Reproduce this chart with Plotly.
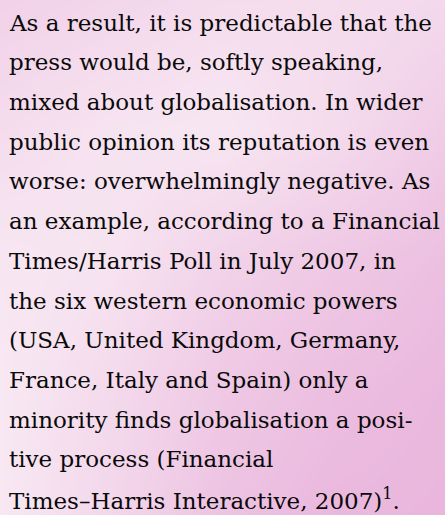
import plotly.graph_objects as go

W, H = 445, 515

lines = [
    "As a result, it is predictable that the",
    "press would be, softly speaking,",
    "mixed about globalisation. In wider",
    "public opinion its reputation is even",
    "worse: overwhelmingly negative. As",
    "an example, according to a Financial",
    "Times/Harris Poll in July 2007, in",
    "the six western economic powers",
    "(USA, United Kingdom, Germany,",
    "France, Italy and Spain) only a",
    "minority finds globalisation a posi-",
    "tive process (Financial",
    "Times\u2013Harris Interactive, 2007)<sup>1</sup>.",
]

# background tint grid (0 = pale, 1 = magenta)
bg_x = [-10, 111, 222, 333, 455]
bg_y = [-10, 130, 260, 390, 525]
bg_z = [
    [0.50, 0.42, 0.32, 0.30, 0.35],
    [0.32, 0.20, 0.15, 0.32, 0.58],
    [0.15, 0.20, 0.45, 0.62, 0.78],
    [0.10, 0.35, 0.62, 0.78, 0.88],
    [0.10, 0.40, 0.72, 0.88, 0.92],
]

fig = go.Figure()
fig.add_trace(go.Heatmap(
    x=bg_x, y=bg_y, z=bg_z, zsmooth="best", showscale=False,
    colorscale=[[0, "#faf0f6"], [1, "#e8b0da"]], zmin=0, zmax=1,
    hoverinfo="skip",
))

fs = 23
first_base = 29.5
step = 39.7
for i, t in enumerate(lines):
    base = first_base + i * step
    fig.add_annotation(
        x=7, y=base - 0.3 * fs, xref="x", yref="y",
        text=t, showarrow=False, xanchor="left", yanchor="middle",
        font=dict(family="DejaVu Serif", size=fs, color="#0a0a0a"),
    )

fig.update_layout(
    width=W, height=H, margin=dict(l=0, r=0, t=0, b=0),
    xaxis=dict(range=[0, W], visible=False, fixedrange=True),
    yaxis=dict(range=[H, 0], visible=False, fixedrange=True),
    paper_bgcolor="#f5e0ee", plot_bgcolor="#f5e0ee",
    showlegend=False,
)
fig.write_html(
    "out.html",
    config={"displayModeBar": False, "staticPlot": True},
    post_script="document.body.style.margin='0';document.body.style.overflow='hidden';",
)
